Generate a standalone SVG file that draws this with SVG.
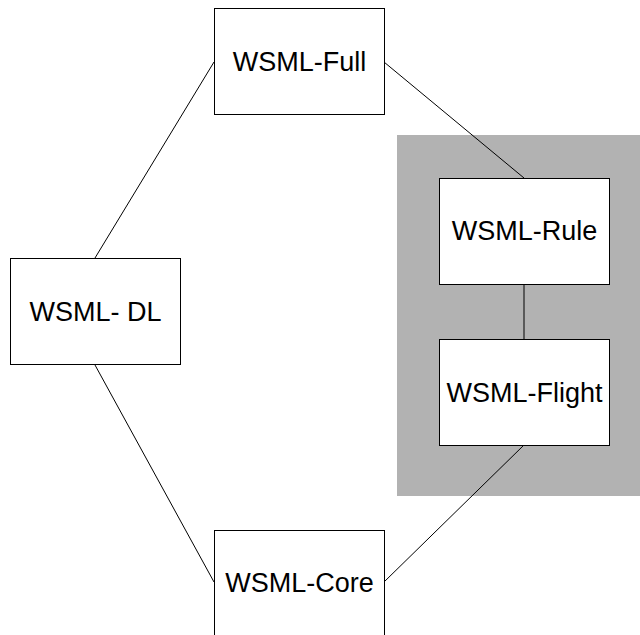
<svg xmlns="http://www.w3.org/2000/svg" width="640" height="635" viewBox="0 0 640 635">
  <style>
    .box { fill: #ffffff; stroke: #000000; stroke-width: 1; }
    .lbl { font-family: "Liberation Sans", Arial, sans-serif; font-size: 27px; fill: #000000; text-anchor: middle; }
    .conn { stroke: #000000; stroke-width: 1; fill: none; }
  </style>
  <rect width="640" height="635" fill="#ffffff"/>
  <!-- shaded region grouping the rule-based variants -->
  <rect id="rule-region" x="397" y="135" width="245" height="361" fill="#b2b2b2"/>
  <g id="connectors">
    <line class="conn" x1="384" y1="62" x2="524" y2="178"/>
    <line class="conn" x1="524" y1="284" x2="524" y2="339"/>
    <line class="conn" x1="524" y1="445" x2="384" y2="582"/>
    <line class="conn" x1="95" y1="258" x2="214" y2="62"/>
    <line class="conn" x1="95" y1="365" x2="214" y2="582"/>
  </g>
  <g id="wsml-full">
    <rect class="box" x="214.5" y="8.5" width="170" height="106"/>
    <text class="lbl" x="299.5" y="71">WSML-Full</text>
  </g>
  <g id="wsml-rule">
    <rect class="box" x="439.5" y="178.5" width="170" height="106"/>
    <text class="lbl" x="524.5" y="240">WSML-Rule</text>
  </g>
  <g id="wsml-flight">
    <rect class="box" x="439.5" y="339.5" width="170" height="106"/>
    <text class="lbl" x="524.5" y="402">WSML-Flight</text>
  </g>
  <g id="wsml-dl">
    <rect class="box" x="10.5" y="258.5" width="170" height="106"/>
    <text class="lbl" x="95.5" y="321">WSML- DL</text>
  </g>
  <g id="wsml-core">
    <rect class="box" x="214.5" y="530.5" width="170" height="106"/>
    <text class="lbl" x="299.5" y="592">WSML-Core</text>
  </g>
</svg>
